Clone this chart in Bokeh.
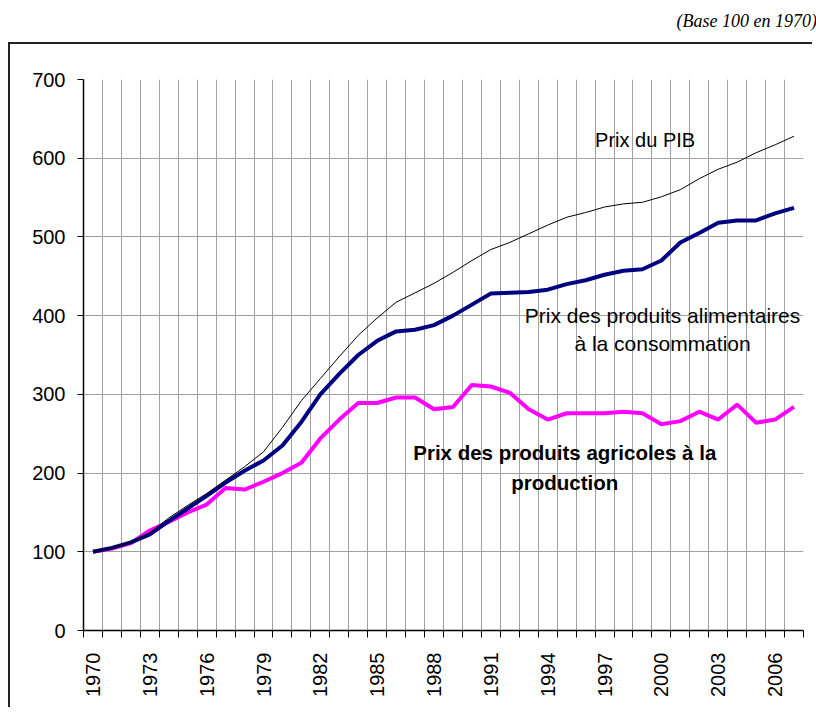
import math
from bokeh.plotting import figure
from bokeh.models import FixedTicker, Label, Div, Range1d
from bokeh.layouts import column
from bokeh.embed import file_html
from bokeh.resources import INLINE

years = list(range(1970, 2008))
prix_pib = [100, 105, 112, 124, 143, 159, 174, 191, 208, 227,
            258, 292, 320, 348, 375, 397, 417, 429, 441, 455,
            470, 484, 493, 504, 515, 525, 531, 538, 542, 544,
            551, 560, 574, 586, 595, 607, 617, 628]
prix_alim = [100, 105, 112, 122, 139, 155, 171, 188, 203, 216,
             235, 265, 300, 326, 350, 368, 380, 382, 388, 400,
             414, 428, 429, 430, 433, 440, 445, 452, 457, 459,
             470, 493, 505, 518, 521, 521, 530, 537]
prix_agri = [100, 104, 111, 127, 138, 150, 160, 181, 179, 189,
             200, 213, 244, 268, 289, 289, 296, 296, 281, 284,
             312, 310, 302, 281, 268, 276, 276, 276, 278, 276,
             262, 266, 278, 268, 287, 264, 268, 284]
y_ticks = [0, 100, 200, 300, 400, 500, 600, 700]
x_label_years = list(range(1970, 2007, 3))
boundaries = [y - 0.5 for y in years] + [years[-1] + 0.5]

FONT = "Liberation Sans"

p = figure(width=804, height=665, output_backend="svg", toolbar_location=None,
           x_range=Range1d(1969.5, 2007.5), y_range=Range1d(0, 700),
           min_border_left=73, min_border_right=11, min_border_top=35,
           min_border_bottom=79)
p.outline_line_color = None
p.background_fill_color = "white"
p.border_fill_color = "white"
p.styles = {"border-left": "2px solid #222222", "border-top": "2px solid #222222"}

# x axis
xa = p.xaxis[0]
xa.ticker = FixedTicker(ticks=x_label_years, minor_ticks=boundaries)
xa.major_tick_line_color = None
xa.major_tick_out = 0
xa.major_tick_in = 0
xa.minor_tick_line_color = "black"
xa.minor_tick_out = 7
xa.minor_tick_in = 0
xa.major_label_orientation = math.pi / 2
xa.major_label_standoff = 15
xa.major_label_text_font = FONT
xa.major_label_text_font_size = "20px"
xa.major_label_text_color = "black"
xa.axis_line_color = "black"
xa.axis_line_width = 1.5

# y axis
ya = p.yaxis[0]
ya.ticker = FixedTicker(ticks=y_ticks)
ya.major_tick_out = 6
ya.major_tick_in = 0
ya.minor_tick_line_color = None
ya.major_tick_line_color = "black"
ya.major_label_standoff = 12
ya.major_label_text_font = FONT
ya.major_label_text_font_size = "20px"
ya.major_label_text_color = "black"
ya.axis_line_color = "black"
ya.axis_line_width = 1.5

# grids
p.xgrid[0].ticker = FixedTicker(ticks=boundaries)
p.xgrid[0].grid_line_color = "#a0a0a0"
p.xgrid[0].grid_line_width = 1
p.ygrid[0].ticker = FixedTicker(ticks=y_ticks)
p.ygrid[0].grid_line_color = "#a0a0a0"
p.ygrid[0].grid_line_width = 1

# series
p.line(years, prix_agri, line_color="#FF00FF", line_width=4)
p.line(years, prix_alim, line_color="#000080", line_width=4)
p.line(years, prix_pib, line_color="black", line_width=1)

# annotations
p.add_layout(Label(x=1996.5, y=623.6, text="Prix du PIB", text_font=FONT,
                   text_font_size="20px", text_align="left", text_baseline="middle",
                   text_color="black"))
p.add_layout(Label(x=2000.06, y=399.6, text="Prix des produits alimentaires",
                   text_font=FONT, text_font_size="21px", text_align="center",
                   text_baseline="middle", text_color="black"))
p.add_layout(Label(x=2000.06, y=364, text="à la consommation",
                   text_font=FONT, text_font_size="21px", text_align="center",
                   text_baseline="middle", text_color="black"))
p.add_layout(Label(x=1994.9, y=226.5, text="Prix des produits agricoles à la",
                   text_font=FONT, text_font_size="20.5px", text_font_style="bold",
                   text_align="center", text_baseline="middle", text_color="black"))
p.add_layout(Label(x=1994.9, y=188.4, text="production",
                   text_font=FONT, text_font_size="20.5px", text_font_style="bold",
                   text_align="center", text_baseline="middle", text_color="black"))

title = Div(text="(Base 100 en 1970)", width=806, height=32,
            styles={"text-align": "right", "font-family": "Liberation Serif",
                    "font-style": "italic", "font-size": "18px",
                    "padding-right": "2px", "padding-top": "4px",
                    "box-sizing": "border-box"})

layout = column(title, p, spacing=0, styles={"margin-left": "8px"})

with open("out.html", "w") as f:
    f.write(file_html(layout, INLINE))
